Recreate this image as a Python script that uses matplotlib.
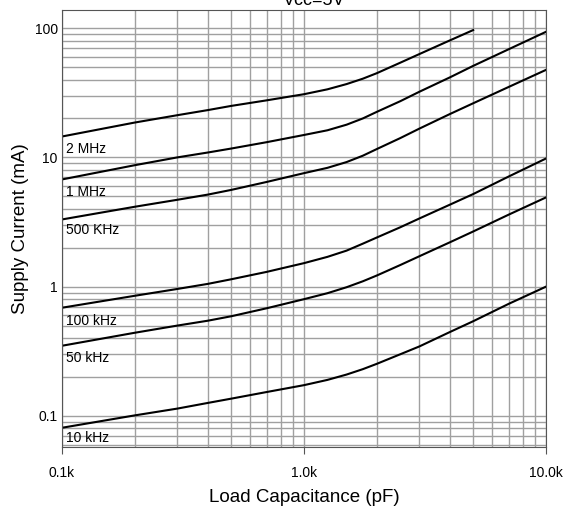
import numpy as np
import matplotlib.pyplot as plt
from matplotlib.ticker import FixedLocator, LogLocator, NullFormatter

plt.rcParams['font.family'] = ['Liberation Sans', 'DejaVu Sans']

# load capacitance (pF)
cap = [100, 200, 300, 400, 500, 700, 1000, 1250, 1500, 1750, 2000,
       2500, 3000, 4000, 5000, 7000, 10000]
cap_2m = cap[:15]

# supply current (mA)
i_2m = [14.5, 18.6, 21.2, 23.2, 25.0, 27.6, 30.8, 33.6, 36.9, 40.6, 44.8,
        54.0, 63.0, 80.2, 96.5]
i_1m = [6.75, 8.7, 10.0, 10.9, 11.7, 13.1, 14.9, 16.2, 17.9, 20.0, 22.5,
        27.2, 32.2, 41.5, 51.0, 68.5, 93.6]
i_500k = [3.31, 4.15, 4.7, 5.15, 5.6, 6.45, 7.55, 8.3, 9.2, 10.3, 11.6,
          14.1, 16.7, 21.6, 26.2, 35.0, 47.5]
i_100k = [0.687, 0.85, 0.96, 1.05, 1.14, 1.30, 1.52, 1.70, 1.90, 2.15, 2.40,
          2.88, 3.37, 4.3, 5.2, 7.1, 9.8]
i_50k = [0.349, 0.44, 0.50, 0.545, 0.59, 0.68, 0.80, 0.89, 0.99, 1.10, 1.22,
         1.47, 1.72, 2.2, 2.67, 3.6, 4.9]
i_10k = [0.081, 0.101, 0.114, 0.126, 0.136, 0.153, 0.173, 0.190, 0.209, 0.230, 0.253,
         0.30, 0.345, 0.445, 0.54, 0.735, 1.0]

labels = ['2 MHz', '1 MHz', '500 KHz', '100 kHz', '50 kHz', '10 kHz']
label_y = [11.7, 5.35, 2.72, 0.545, 0.282, 0.0676]

fig = plt.figure(figsize=(5.68, 5.12), dpi=100)
ax = fig.add_axes([62/568, 65/512, 484/568, 437/512])

ax.plot(cap_2m, i_2m, color='black', lw=1.5)
for ys in [i_1m, i_500k, i_100k, i_50k, i_10k]:
    ax.plot(cap, ys, color='black', lw=1.5)

ax.set_xscale('log')
ax.set_yscale('log')
ax.set_xlim(100, 10000)
ax.set_ylim(0.0575, 138)

ax.xaxis.set_major_locator(FixedLocator([100, 1000, 10000]))
ax.set_xticklabels(['0.1k', '1.0k', '10.0k'])
ax.xaxis.set_minor_locator(LogLocator(base=10, subs=np.arange(2, 10)))
ax.xaxis.set_minor_formatter(NullFormatter())
ax.yaxis.set_major_locator(FixedLocator([0.1, 1, 10, 100]))
ax.set_yticklabels(['0.1', '1', '10', '100'])
ax.yaxis.set_minor_locator(LogLocator(base=10, subs=np.arange(2, 10)))
ax.yaxis.set_minor_formatter(NullFormatter())

ax.grid(True, which='both', color='#a0a0a0', lw=1)
ax.set_axisbelow(True)
ax.tick_params(axis='x', which='major', length=5, direction='out', pad=9,
               labelsize=10, color='#555555')
ax.tick_params(axis='x', which='minor', length=0)
ax.tick_params(axis='y', which='both', length=0, pad=3, labelsize=10)
for s in ax.spines.values():
    s.set_color('#555555')

for lab, yy in zip(labels, label_y):
    ax.text(104, yy, lab, fontsize=10, va='center', ha='left')

ax.set_xlabel('Load Capacitance (pF)', fontsize=13.5, labelpad=6)
ax.set_ylabel('Supply Current (mA)', fontsize=13.5, labelpad=4)
fig.text(0.553, 0.99, 'Vcc=5V', fontsize=13, ha='center', va='baseline')

fig.savefig('out.png', dpi=100)
